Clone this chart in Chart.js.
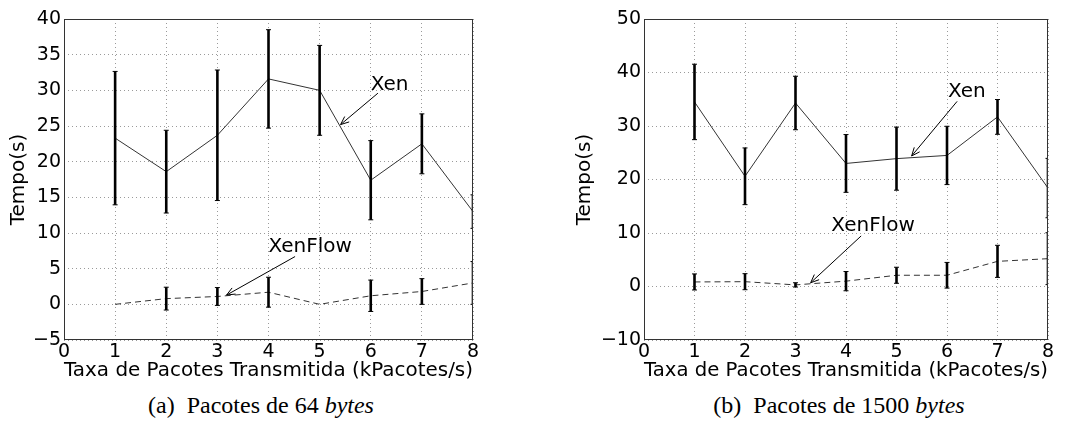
<!DOCTYPE html>
<html>
<head>
<meta charset="utf-8">
<script src="https://cdn.jsdelivr.net/npm/chart.js@4.4.0/dist/chart.umd.min.js"></script>
<style>
  body { margin: 0; background: #fff; width: 1065px; height: 423px; position: relative; overflow: hidden; }
  .box { position: absolute; top: 0; height: 388px; }
  .cap { position: absolute; top: 391px; font-family: "Liberation Serif", "Times New Roman", serif; font-size: 24px; line-height: 28px; color: #000; white-space: nowrap; transform: translateX(-50%); }
</style>
</head>
<body>
<div class="box" style="left:0;width:530px"><canvas id="c64"></canvas></div>
<div class="box" style="left:530px;width:535px"><canvas id="c1500"></canvas></div>
<div class="cap" style="left:261px">(a)&nbsp; Pacotes de 64 <i>bytes</i></div>
<div class="cap" style="left:839px">(b)&nbsp; Pacotes de 1500 <i>bytes</i></div>
<script>
const rates = [1, 2, 3, 4, 5, 6, 7, 8];
const xTicks = [0, 1, 2, 3, 4, 5, 6, 7, 8];

// 64 bytes
const xen64 = [23.3, 18.6, 23.7, 31.6, 30.0, 17.4, 22.5, 13.0];
const xen64Err = [9.35, 5.8, 9.15, 6.9, 6.3, 5.55, 4.2, 2.35];
const flow64 = [0.0, 0.8, 1.1, 1.7, 0.0, 1.2, 1.8, 3.0];
const flow64Err = [0, 1.6, 1.25, 2.1, 0, 2.2, 1.8, 3.0];
const yTicks64 = [-5, 0, 5, 10, 15, 20, 25, 30, 35, 40];

// 1500 bytes
const xen1500 = [34.5, 20.6, 34.3, 23.0, 23.9, 24.5, 31.7, 18.4];
const xen1500Err = [7.05, 5.3, 5.0, 5.4, 5.9, 5.45, 3.25, 5.55];
const flow1500 = [0.85, 0.9, 0.3, 1.0, 2.1, 2.1, 4.7, 5.2];
const flow1500Err = [1.5, 1.5, 0.4, 1.8, 1.5, 2.4, 3.0, 4.85];
const yTicks1500 = [-10, 0, 10, 20, 30, 40, 50];

const FONT = "'DejaVu Sans', Verdana, sans-serif";

// error bars drawn through the chart scales
const errorBars = {
  id: 'errorBars',
  afterDatasetsDraw(chart) {
    const { ctx, chartArea, scales: { x, y } } = chart;
    ctx.save();
    ctx.beginPath();
    ctx.rect(chartArea.left, chartArea.top, chartArea.right - chartArea.left, chartArea.bottom - chartArea.top);
    ctx.clip();
    ctx.strokeStyle = '#000';
    chart.data.datasets.forEach(ds => {
      ds.data.forEach((p, i) => {
        const e = ds.errors[i];
        if (!e) return;
        const px = x.getPixelForValue(p.x);
        const top = y.getPixelForValue(p.y + e);
        const bot = y.getPixelForValue(p.y - e);
        ctx.lineWidth = 2.6;
        ctx.beginPath(); ctx.moveTo(px, top); ctx.lineTo(px, bot); ctx.stroke();
        ctx.lineWidth = 1;
        ctx.beginPath();
        ctx.moveTo(px - 2.5, top); ctx.lineTo(px + 2.5, top);
        ctx.moveTo(px - 2.5, bot); ctx.lineTo(px + 2.5, bot);
        ctx.stroke();
      });
    });
    ctx.restore();
  }
};

// frame + annotations with arrows
const notesPlugin = {
  id: 'notes',
  afterDraw(chart) {
    const { ctx, chartArea, scales: { x, y } } = chart;
    ctx.save();
    ctx.strokeStyle = '#333';
    ctx.lineWidth = 1;
    ctx.strokeRect(chartArea.left + 0.5, chartArea.top + 0.5, chartArea.right - chartArea.left - 1, chartArea.bottom - chartArea.top - 1);
    const notes = chart.options.plugins.notes.items || [];
    ctx.font = '20px ' + FONT;
    ctx.fillStyle = '#000';
    ctx.textBaseline = 'middle';
    ctx.textAlign = 'left';
    notes.forEach(n => {
      ctx.fillText(n.text, x.getPixelForValue(n.tx), y.getPixelForValue(n.ty));
      const x0 = x.getPixelForValue(n.from[0]), y0 = y.getPixelForValue(n.from[1]);
      const x1 = x.getPixelForValue(n.to[0]), y1 = y.getPixelForValue(n.to[1]);
      const a = Math.atan2(y1 - y0, x1 - x0);
      ctx.strokeStyle = '#000';
      ctx.beginPath();
      ctx.moveTo(x0, y0); ctx.lineTo(x1, y1);
      ctx.moveTo(x1 - 9 * Math.cos(a - 0.4), y1 - 9 * Math.sin(a - 0.4));
      ctx.lineTo(x1, y1);
      ctx.lineTo(x1 - 9 * Math.cos(a + 0.4), y1 - 9 * Math.sin(a + 0.4));
      ctx.stroke();
    });
    ctx.restore();
  }
};

function pts(vals) {
  return rates.map((r, i) => ({ x: r, y: vals[i] }));
}

function makeChart(id, xen, xenErr, flow, flowErr, yTicks, yAxisWidth, yTitlePad, rightPad, notes) {
  new Chart(document.getElementById(id), {
    type: 'line',
    data: {
      datasets: [
        { label: 'Xen', data: pts(xen), errors: xenErr, borderColor: '#333', borderWidth: 1, pointRadius: 0, fill: false, tension: 0 },
        { label: 'XenFlow', data: pts(flow), errors: flowErr, borderColor: '#333', borderWidth: 1, borderDash: [6, 4], pointRadius: 0, fill: false, tension: 0 }
      ]
    },
    options: {
      responsive: true,
      maintainAspectRatio: false,
      animation: false,
      events: [],
      layout: { padding: { top: 19, right: rightPad, left: 0, bottom: 0 } },
      plugins: {
        legend: { display: false },
        tooltip: { enabled: false },
        notes: { items: notes }
      },
      scales: {
        x: {
          type: 'linear',
          min: 0, max: 8,
          afterBuildTicks: s => { s.ticks = xTicks.map(v => ({ value: v })); },
          afterFit: s => { s.height = 48; },
          grid: { color: '#9a9a9a', drawTicks: false },
          border: { display: false, dash: [1, 3] },
          ticks: { color: '#000', padding: 1, maxRotation: 0, font: { family: FONT, size: 19 } },
          title: { display: true, text: 'Taxa de Pacotes Transmitida (kPacotes/s)', color: '#000', padding: { top: 0, bottom: 5 }, font: { family: FONT, size: 20 } }
        },
        y: {
          min: yTicks[0], max: yTicks[yTicks.length - 1],
          afterBuildTicks: s => { s.ticks = yTicks.map(v => ({ value: v })); },
          afterFit: s => { s.width = yAxisWidth; },
          grid: { color: '#9a9a9a', drawTicks: false },
          border: { display: false, dash: [1, 3] },
          ticks: { color: '#000', padding: 3, font: { family: FONT, size: 19 }, callback: v => String(v).replace('-', '\u2212') },
          title: { display: true, text: 'Tempo(s)', color: '#000', padding: { top: yTitlePad, bottom: 0 }, font: { family: FONT, size: 20 } }
        }
      }
    },
    plugins: [errorBars, notesPlugin]
  });
}

makeChart('c64', xen64, xen64Err, flow64, flow64Err, yTicks64, 64, 7, 57, [
  { text: 'Xen', tx: 6.0, ty: 30.8, from: [6.14, 29.6], to: [5.41, 25.2] },
  { text: 'XenFlow', tx: 4.0, ty: 8.0, from: [4.52, 6.7], to: [3.18, 1.3] }
]);

makeChart('c1500', xen1500, xen1500Err, flow1500, flow1500Err, yTicks1500, 114, 43, 17, [
  { text: 'Xen', tx: 6.02, ty: 36.4, from: [6.2, 34.6], to: [5.3, 24.4] },
  { text: 'XenFlow', tx: 3.71, ty: 11.3, from: [4.3, 9.45], to: [3.3, 0.7] }
]);
</script>
</body>
</html>
